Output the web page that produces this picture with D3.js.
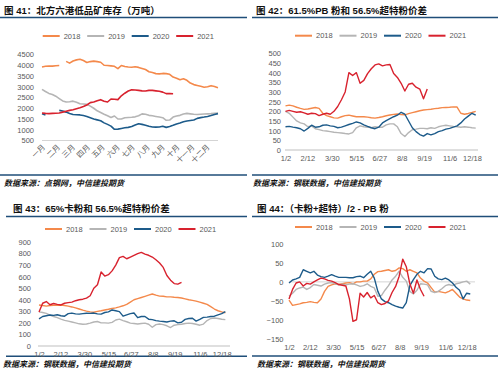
<!DOCTYPE html>
<html>
<head>
<meta charset="utf-8">
<script src="https://cdn.jsdelivr.net/npm/d3@7"></script>
<style>
	body { margin: 0; background: #fff; }
	svg text { font-family: "Liberation Sans", "Noto Sans CJK SC", sans-serif; }
</style>
</head>
<body>
<div id="chart"></div>
<script>
// ---- data ----
const years = ["2018", "2019", "2020", "2021"];
const months = ["一月", "二月", "三月", "四月", "五月", "六月", "七月", "八月", "九月", "十月", "十一月", "十二月"];
const dateTicks = ["1/2", "2/12", "3/30", "5/15", "6/27", "8/8", "9/19", "11/6", "12/18"];

// 图41 北方六港低品矿库存, weekly (万吨)
const stock2018 = [3920,3950,3960,3960,3980,3990,null,4180,4100,4200, 4250,4280,4220,4130,4170,4190,4170,4140,4000,3990, 3970,3950,3840,3990,3940,3920,3910,3930,3900,3850, 3800,3700,3660,3610,3600,3620,3610,3580,3450,3400, 3330,3370,3300,3170,3100,3060,3020,2980,3000,3050, 3010,2950];
const stock2019 = [2880,2780,2690,2640,2560,2450,2340,2290,2300,2330, 2280,2210,2200,2180,2100,2000,1880,1800,1720,1650, 1570,1640,1500,1500,1560,1570,1580,1600,1650,1740, 1720,1670,1650,1620,1590,1560,1440,1450,1590,1640, 1670,1730,1760,1740,1720,1710,1720,1730,1740,1750, 1770,1780];
const stock2020 = [1740,1690,null,null,null,1900,1870,1820,1760,1710, 1700,1690,1660,1620,1560,1500,1460,1420,1320,1250, 1170,1020,1030,1060,1090,1110,1150,1220,1280,1250, 1210,1160,1130,1120,1125,1160,1110,1150,1205,1270, 1310,1370,1410,1430,1450,1530,1565,1590,1620,1660, 1710,1750];
const stock2021 = [1780,1760,1750,1760,1770,1780,1820,1860,1900,1930, 1980,2025,2080,2150,2260,2290,2350,2400,2330,2290, 2430,2420,2400,2580,2700,2800,2860,2850,2830,2810, 2800,2830,2830,2810,2790,2750,2680,2680,2675];

// 图42 61.5%PB粉 - 56.5%超特粉, weekly
const pb2018 = [228,232,228,221,215,210,212,216,220,215, 190,178,172,166,165,172,178,180,176,172, 172,172,170,167,165,168,172,177,181,184, 186,183,182,188,193,198,203,207,209,211, 214,216,219,220,221,223,222,190,185,189, 194,200];
const pb2019 = [200,190,170,150,140,135,120,125,110,105, 100,98,95,92,90,88,85,83,90,115, 125,120,118,115,120,118,118,130,135,135, 120,85,70,90,105,108,112,112,110,115, 112,120,125,128,125,122,120,118,120,118, 115,113];
const pb2020 = [120,122,118,115,110,98,112,128,118,120, 128,130,125,122,115,118,125,132,138,145, 140,130,122,115,110,118,140,152,162,172, 180,195,185,150,115,95,80,72,85,78, 85,95,100,108,112,118,125,140,160,175, 190,180];
const pb2021 = [200,205,200,195,198,192,185,190,188,178, 185,190,185,200,225,260,300,400,385,400, 345,360,395,420,440,445,435,440,442,395, 375,345,305,340,345,325,315,265,315];

// 图43 65%卡粉 - 56.5%超特粉, weekly
const ka2018 = [355,350,345,350,352,352,355,350,345,338, 330,320,310,302,295,292,300,305,312,318, 325,330,338,348,360,380,400,410,420,430, 440,450,440,432,430,425,425,422,420,415, 408,400,395,388,380,370,360,340,320,305, 295,288];
const ka2019 = [295,290,282,268,255,245,232,222,215,208, 200,192,188,190,198,208,212,200,200,198, 205,225,232,220,210,198,195,190,195,198, 188,162,185,190,185,175,160,180,185,188, 195,198,195,188,180,190,220,238,242,238, 232,228];
const ka2020 = [235,255,262,268,265,270,262,258,280,285, 278,276,280,284,282,285,278,276,290,295, 312,305,298,258,270,280,286,245,255,255, 232,228,220,215,212,208,215,218,200,205, 230,238,240,215,230,248,250,255,258,270, 280,298];
const ka2021 = [295,370,385,357,368,360,355,370,375,380, 392,400,405,415,435,500,530,640,605,617, 650,700,765,776,755,770,785,800,810,795, 785,770,746,718,680,610,570,540,535,550];

// 图44 (卡粉+超特)/2 - PB粉, weekly
const mix2018 = [-48,-62,-60,-58,-55,-54,-52,-54,-55,-45, -25,-12,-8,-5,-7,-5,-3,-2,-5,0, 0,2,2,8,20,27,28,30,32,28, 30,37,35,28,32,28,24,10,2,-3, -15,-27,-25,-27,-29,-25,-20,-30,-40,-45, -48,-49];
const mix2019 = [-38,-30,-20,-16,-14,-20,-15,-7,-9,-11, -6,-3,-2,-5,-8,-6,-8,-6,-5,-8, -12,-10,-5,-12,-16,-38,-36,-22,-10,5, 15,28,12,2,-25,-32,-22,-5,-6,-8, -25,-28,-25,-18,-10,-7,-10,-5,-3,0, 2,-6];
const mix2020 = [-3,5,8,12,32,28,24,28,18,14, 12,15,19,15,12,12,12,11,11,14, 15,11,20,28,10,-25,-45,-52,-55,-60, -64,-67,-69,-55,-10,6,20,28,24,35, 34,15,8,6,10,5,-3,-14,-22,-45, -30,-32];
const mix2021 = [-45,-20,-3,0,-11,-4,-6,0,5,10, 8,4,2,-2,-7,-9,-11,-45,-104,-100, -30,-40,-28,-42,-36,-55,-60,-57,-50,-28, -12,15,60,40,-5,-30,5,-20,-38];

// ---- styles ----
const colors = ["#f4894b", "#b5b5b5", "#1d5b8a", "#d8222e"];
const navy = "#1f4e79";
const tickColor = "#595959";

// ---- helpers ----
const parseDay = d3.timeParse("%Y/%m/%d");
const dayOf = (label) => parseDay("2021/" + label);
const weekDates = d3.range(52).map((i) => d3.timeDay.offset(dayOf("1/2"), 7 * i));
const weekNums = d3.range(52);

const svg = d3.select("#chart").append("svg")
	.attr("width", 500).attr("height", 376);

function drawPanel(p) {
	const g = svg.append("g");

	// title + rules
	g.append("text")
		.attr("x", p.titleX).attr("y", p.titleY)
		.attr("font-size", "9.5px").attr("font-weight", "bold").attr("fill", "#111")
		.text(p.title);
	g.append("line")
		.attr("x1", p.left).attr("x2", p.right).attr("y1", p.ruleTop).attr("y2", p.ruleTop)
		.attr("stroke", navy).attr("stroke-width", 1.5);
	g.append("line")
		.attr("x1", p.left).attr("x2", p.right).attr("y1", p.ruleBottom).attr("y2", p.ruleBottom)
		.attr("stroke", navy).attr("stroke-width", 1.5);
	g.append("text")
		.attr("x", p.sourceX).attr("y", p.ruleBottom + 11)
		.attr("font-size", "8px").attr("font-weight", "bold").attr("font-style", "italic").attr("fill", "#111")
		.text(p.source);

	// legend
	const legend = g.selectAll("g.legend").data(years).join("g")
		.classed("legend", true)
		.attr("transform", (d, i) => `translate(${p.legendX + i * 44.5}, ${p.legendY})`);
	legend.append("line")
		.attr("x1", 0).attr("x2", 17)
		.attr("stroke", (d, i) => colors[i]).attr("stroke-width", 2);
	legend.append("text")
		.attr("x", 21).attr("dy", "0.35em")
		.attr("font-size", "7.5px").attr("fill", tickColor)
		.text((d) => d);

	// baseline
	g.append("line")
		.attr("x1", p.baseX[0]).attr("x2", p.baseX[1])
		.attr("y1", p.scaleY(p.baseValue)).attr("y2", p.scaleY(p.baseValue))
		.attr("stroke", "#d4d4d4").attr("stroke-width", p.baseWidth);

	// y axis
	const axisY = g.append("g")
		.attr("transform", `translate(${p.labelRight}, 0)`)
		.call(d3.axisLeft(p.scaleY).tickValues(p.ticksY).tickFormat(d3.format("d"))
			.tickSize(0).tickPadding(0));
	axisY.select(".domain").remove();
	axisY.selectAll("text").attr("font-size", "7.5px").attr("fill", tickColor)
		.style("font-family", null);

	// lines
	const line = d3.line()
		.defined((d) => d[1] != null)
		.x((d) => p.scaleX(d[0]))
		.y((d) => p.scaleY(d[1]));
	g.selectAll("path.series")
		.data(p.series)
		.join("path")
		.classed("series", true)
		.attr("fill", "none")
		.attr("stroke", (d, i) => colors[i])
		.attr("stroke-width", p.lineWidth)
		.attr("stroke-linejoin", "round")
		.attr("d", (vals) => line(vals.map((v, i) => [p.xs[i], v])));

	return g;
}

// ---- 图41 ----
const x41 = d3.scaleLinear().domain([0, 52]).range([42, 221.4]);
const g41 = drawPanel({
	title: "图 41：北方六港低品矿库存（万吨）", titleX: 4, titleY: 13.5,
	source: "数据来源：点钢网，中信建投期货", sourceX: 4,
	left: 0, right: 247, ruleTop: 17.5, ruleBottom: 175,
	legendX: 42.7, legendY: 36,
	scaleX: x41, scaleY: d3.scaleLinear().domain([500, 4500]).range([140.5, 54.5]),
	ticksY: d3.range(500, 4501, 500), labelRight: 34,
	baseValue: 500, baseX: [42, 218], baseWidth: 1,
	xs: weekNums, series: [stock2018, stock2019, stock2020, stock2021], lineWidth: 1.6
});
g41.selectAll("text.month")
	.data(months)
	.join("text")
	.classed("month", true)
	.attr("transform", (d, i) => `translate(${x41(i * 52 / 12) + 2}, 146) rotate(-45)`)
	.attr("text-anchor", "end").attr("dy", "0.3em")
	.attr("font-size", "7.5px").attr("fill", tickColor)
	.text((d) => d);

// ---- 图42-44 share a date axis ----
function dateAxis(g, scaleX, y) {
	const axis = g.append("g")
		.attr("transform", `translate(0, ${y})`)
		.call(d3.axisBottom(scaleX).tickValues(dateTicks.map(dayOf))
			.tickFormat(d3.timeFormat("%-m/%-d")).tickSize(0).tickPadding(0));
	axis.select(".domain").remove();
	axis.selectAll("text").attr("font-size", "7.5px").attr("fill", tickColor)
		.style("font-family", null);
}

const x42 = d3.scaleTime().domain([dayOf("1/2"), dayOf("12/18")]).range([285.5, 472]);
const g42 = drawPanel({
	title: "图 42：61.5%PB 粉和 56.5%超特粉价差", titleX: 256, titleY: 13.5,
	source: "数据来源：钢联数据，中信建投期货", sourceX: 253,
	left: 252, right: 498, ruleTop: 17.5, ruleBottom: 175,
	legendX: 295, legendY: 35.7,
	scaleX: x42, scaleY: d3.scaleLinear().domain([0, 500]).range([150, 53.3]),
	ticksY: d3.range(0, 501, 50), labelRight: 281,
	baseValue: 0, baseX: [285, 478], baseWidth: 1.5,
	xs: weekDates, series: [pb2018, pb2019, pb2020, pb2021], lineWidth: 1.4
});
dateAxis(g42, x42, 155.5);

const x43 = d3.scaleTime().domain([dayOf("1/2"), dayOf("12/18")]).range([39, 221.7]);
const g43 = drawPanel({
	title: "图 43：65%卡粉和 56.5%超特粉价差", titleX: 13, titleY: 211.5,
	source: "数据来源：钢联数据，中信建投期货", sourceX: 3,
	left: 6, right: 247, ruleTop: 216.5, ruleBottom: 356.3,
	legendX: 45, legendY: 229,
	scaleX: x43, scaleY: d3.scaleLinear().domain([0, 900]).range([346, 242]),
	ticksY: d3.range(0, 901, 100), labelRight: 31,
	baseValue: 0, baseX: [38, 230], baseWidth: 1.5,
	xs: weekDates, series: [ka2018, ka2019, ka2020, ka2021], lineWidth: 1.4
});
dateAxis(g43, x43, 351.3);

const x44 = d3.scaleTime().domain([dayOf("1/2"), dayOf("12/18")]).range([289, 466.7]);
const g44 = drawPanel({
	title: "图 44：（卡粉+超特）/2 - PB 粉", titleX: 257, titleY: 211.5,
	source: "数据来源：钢联数据，中信建投期货", sourceX: 257,
	left: 252, right: 498, ruleTop: 216.5, ruleBottom: 356,
	legendX: 295, legendY: 227,
	scaleX: x44, scaleY: d3.scaleLinear().domain([-150, 100]).range([338.7, 244]),
	ticksY: d3.range(-150, 101, 50), labelRight: 283.5,
	baseValue: 0, baseX: [289, 475], baseWidth: 1,
	xs: weekDates, series: [mix2018, mix2019, mix2020, mix2021], lineWidth: 1.4
});
dateAxis(g44, x44, 344.6);
</script>
</body>
</html>
